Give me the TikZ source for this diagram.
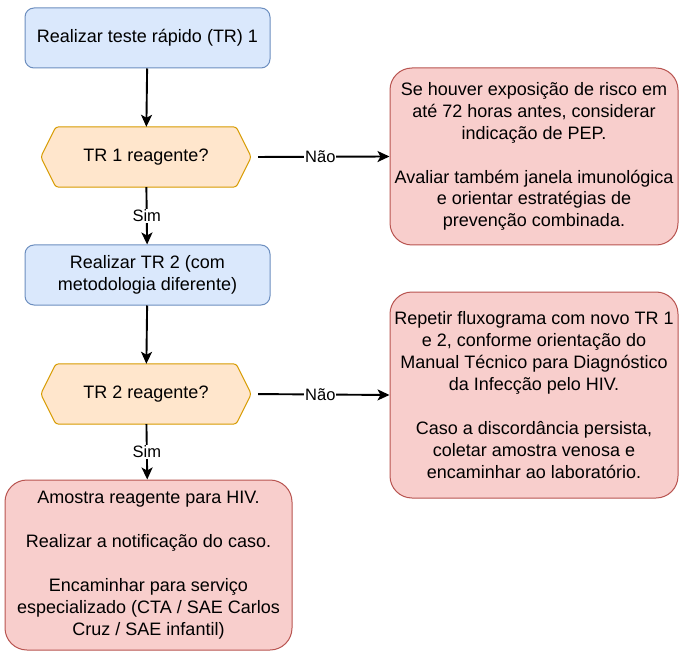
\documentclass[tikz,border=0pt]{standalone}
\usepackage{fontspec}
\setmainfont{Liberation Sans}
\usetikzlibrary{arrows.meta,backgrounds}
\definecolor{bfill}{HTML}{DAE8FC}
\definecolor{bstroke}{HTML}{6C8EBF}
\definecolor{ofill}{HTML}{FFE6CC}
\definecolor{ostroke}{HTML}{D79B00}
\definecolor{rfill}{HTML}{F8CECC}
\definecolor{rstroke}{HTML}{B85450}
\newcommand{\mainfs}{\fontsize{18}{21.9}\selectfont}
\newcommand{\lblfs}{\fontsize{16.5}{19}\selectfont}
\begin{document}
\begin{tikzpicture}[x=1pt,y=-1pt,
  bluebox/.style={draw=bstroke, fill=bfill, rounded corners=9pt, line width=1pt,
    minimum width=245pt, minimum height=60pt, align=center,
    inner sep=0pt, font=\mainfs},
  redbox/.style={draw=rstroke, fill=rfill, rounded corners=22pt, line width=1pt,
    minimum width=288pt, align=center, inner sep=0pt, font=\mainfs},
  hexbox/.style={minimum width=210pt, minimum height=60pt, inner sep=0pt, font=\mainfs},
  hexdraw/.style={draw=ostroke, fill=ofill, line width=1pt, rounded corners=3pt},
  arr/.style={-{Stealth[length=12pt,width=11pt,inset=3pt]}, line width=1.9pt},
  lbl/.style={fill=white, inner sep=1pt, font=\lblfs}]
\useasboundingbox (0,0) rectangle (682,652);

\node[bluebox] (b1) at (147.5,38) {Realizar teste rápido (TR) 1};
\node[hexbox] (h1) at (146,157) {TR 1 reagente?};
\node[bluebox] (b2) at (147.5,275) {Realizar TR 2 (com\\metodologia diferente)};
\node[hexbox] (h2) at (146,394) {TR 2 reagente?};
\node[redbox, minimum height=170pt, minimum width=287pt] (b3) at (148.5,565)
  {Amostra reagente para HIV.\\[21.9pt]Realizar a notificação do caso.\\[21.9pt]Encaminhar para serviço\\especializado (CTA / SAE Carlos\\Cruz / SAE infantil)};
\node[redbox, minimum height=177pt] (r1) at (534,156.5)
  {Se houver exposição de risco em\\até 72 horas antes, considerar\\indicação de PEP.\\[21.9pt]Avaliar também janela imunológica\\e orientar estratégias de\\prevenção combinada.};
\node[redbox, minimum height=206pt] (r2) at (534,395)
  {Repetir fluxograma com novo TR 1\\e 2, conforme orientação do\\Manual Técnico para Diagnóstico\\da Infecção pelo HIV.\\[21.9pt]Caso a discordância persista,\\coletar amostra venosa e\\encaminhar ao laboratório.};

\begin{scope}[on background layer]
\foreach \h in {h1,h2}{
  \draw[hexdraw] (\h.west) -- ([xshift=15pt]\h.north west) -- ([xshift=-15pt]\h.north east)
    -- (\h.east) -- ([xshift=-15pt]\h.south east) -- ([xshift=15pt]\h.south west) -- cycle;
}
\end{scope}

\draw[arr] (b1) -- (h1);
\draw[arr] (h1) -- node[lbl]{Sim} (b2);
\draw[arr] (b2) -- (h2);
\draw[arr] (h2) -- node[lbl]{Sim} (b3);
\draw[arr, shorten <=7pt] (h1.east) -- node[lbl]{Não} (r1.west);
\draw[arr, shorten <=7pt] (h2.east) -- node[lbl]{Não} (r2.west);
\end{tikzpicture}
\end{document}
